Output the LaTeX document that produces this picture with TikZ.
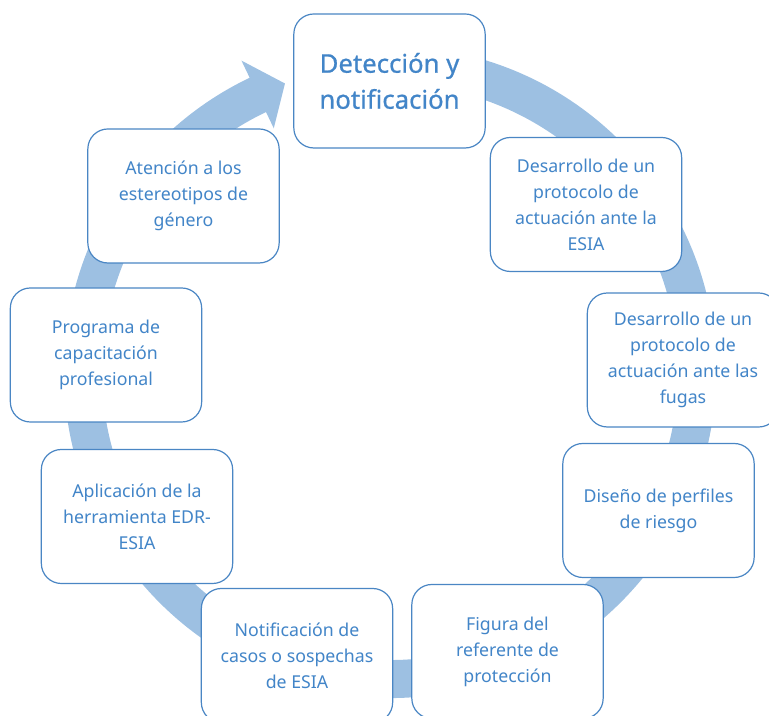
\documentclass[tikz,border=0pt]{standalone}
\usepackage{fontspec}
\setmainfont{Noto Sans}
\newfontfamily\headfont[FakeBold=0.7]{Noto Sans}
\usetikzlibrary{calc}
\definecolor{ringblue}{RGB}{157,192,226}
\definecolor{boxblue}{RGB}{74,134,196}
\definecolor{textblue}{RGB}{66,133,200}

\begin{document}
\begin{tikzpicture}[x=0.75pt,y=0.75pt,
    stage/.style={draw=boxblue,line width=0.9pt,fill=white,rounded corners=15pt,
      minimum width=143.5pt,minimum height=100.5pt,align=center,text=textblue,
      font=\fontsize{13.3}{19.5}\selectfont},
    headstage/.style={stage,font=\headfont\fontsize{19.3}{27}\selectfont}]
  \clip (0,0) rectangle (769,716);
  \coordinate (c) at (390,344);
  % ring arrow
  \fill[ringblue] ($(c)+(78:326)$) arc[start angle=78,end angle=-244.5,radius=326]
    -- ($(c)+(115.5:345)$) -- ($(c)+(110:307)$) -- ($(c)+(115.5:270)$)
    -- ($(c)+(115.5:288)$) arc[start angle=-244.5,end angle=78,radius=288] -- cycle;
  % stages
  \node[headstage] (detect) at (389.5,635) {Detección y\\notificación};
  \node[stage] (protesia) at (586,511.5) {Desarrollo de un\\protocolo de\\actuación ante la\\ESIA};
  \node[stage] (protfugas) at (683,356) {Desarrollo de un\\protocolo de\\actuación ante las\\fugas};
  \node[stage] (perfiles) at (658.5,205.5) {Diseño de perfiles\\de riesgo};
  \node[stage] (referente) at (507.5,64.5) {Figura del\\referente de\\protección};
  \node[stage] (notif) at (297,60.5) {Notificación de\\casos o sospechas\\de ESIA};
  \node[stage] (edr) at (137,199.5) {Aplicación de la\\herramienta EDR-\\ESIA};
  \node[stage] (capacit) at (106,361) {Programa de\\capacitación\\profesional};
  \node[stage] (estereo) at (183.5,520) {Atención a los\\estereotipos de\\género};
\end{tikzpicture}
\end{document}
